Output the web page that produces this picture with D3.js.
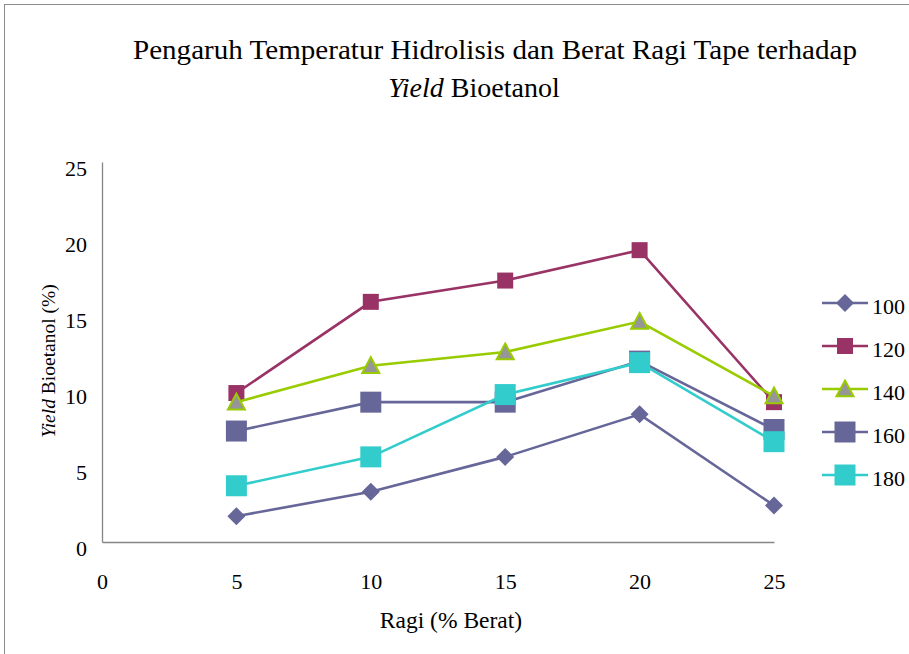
<!DOCTYPE html>
<html>
<head>
<meta charset="utf-8">
<script src="https://cdn.jsdelivr.net/npm/d3@7"></script>
<style>
  body { margin: 0; background: #fff; }
  svg { display: block; font-family: "Liberation Serif", "Times New Roman", serif; }
</style>
</head>
<body>
<div id="chart"></div>
<script>
// Ragi (% berat) on the x axis
var ragi = [5, 10, 15, 20, 25];

// Yield bioetanol (%) per hydrolysis temperature
var yield100 = [1.7, 3.3, 5.6, 8.4, 2.4];
var yield120 = [9.8, 15.8, 17.2, 19.2, 9.2];
var yield140 = [9.2, 11.6, 12.5, 14.5, 9.6];
var yield160 = [7.3, 9.2, 9.2, 11.9, 7.4];
var yield180 = [3.7, 5.6, 9.7, 11.8, 6.6];

var seriesNames = ["100", "120", "140", "160", "180"];
var xTicks = [0, 5, 10, 15, 20, 25];
var yTicks = [0, 5, 10, 15, 20, 25];

var width = 909, height = 654;
var serif = "'Liberation Serif', 'Times New Roman', serif";

var svg = d3.select("#chart").append("svg")
    .attr("width", width)
    .attr("height", height);

// chart area border (cropped at right and bottom)
svg.append("rect")
    .attr("x", 4.5).attr("y", 4.5)
    .attr("width", width + 10).attr("height", height + 10)
    .attr("fill", "#fff")
    .attr("stroke", "#8c8c8c")
    .attr("stroke-width", 1);

var x = d3.scaleLinear().domain([0, 25]).range([102, 774]);
var y = d3.scaleLinear().domain([0, 25]).range([542, 162]);

// Title
svg.append("text")
    .attr("x", 495).attr("y", 59)
    .attr("text-anchor", "middle")
    .attr("font-size", 28)
    .attr("textLength", 724)
    .attr("lengthAdjust", "spacingAndGlyphs")
    .text("Pengaruh Temperatur Hidrolisis dan Berat Ragi Tape terhadap");
var t2 = svg.append("text")
    .attr("x", 474).attr("y", 97)
    .attr("text-anchor", "middle")
    .attr("font-size", 28);
t2.append("tspan").attr("font-style", "italic").text("Yield");
t2.append("tspan").text(" Bioetanol");

// Axes
var xAxis = svg.append("g")
    .attr("transform", "translate(0," + y(0) + ")")
    .call(d3.axisBottom(x).tickValues(xTicks).tickSize(0).tickPadding(0));
var yAxis = svg.append("g")
    .attr("transform", "translate(" + x(0) + ",0)")
    .call(d3.axisLeft(y).tickValues(yTicks).tickSize(0).tickPadding(15));

[xAxis, yAxis].forEach(function (g) {
    g.select(".domain").attr("stroke", "#868686").attr("stroke-width", 1.3);
    g.selectAll("text")
        .attr("font-family", serif)
        .attr("font-size", 22)
        .attr("fill", "#000");
});
xAxis.selectAll("text").attr("y", 47).attr("dy", null);
yAxis.selectAll("text").attr("dy", null).attr("y", 13.5);

// Axis titles
svg.append("text")
    .attr("x", 451).attr("y", 628)
    .attr("text-anchor", "middle")
    .attr("font-size", 23.5)
    .text("Ragi (% Berat)");

var yt = svg.append("text")
    .attr("transform", "translate(55,361) rotate(-90)")
    .attr("text-anchor", "middle")
    .attr("font-size", 19.5);
yt.append("tspan").attr("font-style", "italic").text("Yield");
yt.append("tspan").text(" Bioetanol (%)");

// Series definitions
var series = [
    { name: seriesNames[0], values: yield100, line: "#666699", fill: "#666699", stroke: "none", shape: "diamond", size: 18 },
    { name: seriesNames[1], values: yield120, line: "#993366", fill: "#993366", stroke: "none", shape: "square", size: 16 },
    { name: seriesNames[2], values: yield140, line: "#99CC00", fill: "#969696", stroke: "#99CC00", shape: "triangle", size: 17 },
    { name: seriesNames[3], values: yield160, line: "#666699", fill: "#666699", stroke: "none", shape: "square", size: 21 },
    { name: seriesNames[4], values: yield180, line: "#33CCCC", fill: "#33CCCC", stroke: "none", shape: "square", size: 21 }
];

function markerPath(shape, s) {
    var h = s / 2;
    if (shape === "diamond") return "M0," + (-h) + "L" + h + ",0L0," + h + "L" + (-h) + ",0Z";
    if (shape === "triangle") return "M0," + (-h) + "L" + h + "," + (h * 0.85) + "L" + (-h) + "," + (h * 0.85) + "Z";
    return "M" + (-h) + "," + (-h) + "H" + h + "V" + h + "H" + (-h) + "Z";
}

var line = d3.line()
    .x(function (d, i) { return x(ragi[i]); })
    .y(function (d) { return y(d); });

series.forEach(function (s) {
    var g = svg.append("g");
    g.append("path")
        .attr("d", line(s.values))
        .attr("fill", "none")
        .attr("stroke", s.line)
        .attr("stroke-width", 2.6);
    g.selectAll("path.marker")
        .data(s.values)
        .enter().append("path")
        .attr("class", "marker")
        .attr("transform", function (d, i) { return "translate(" + x(ragi[i]) + "," + y(d) + ")"; })
        .attr("d", markerPath(s.shape, s.size))
        .attr("fill", s.fill)
        .attr("stroke", s.stroke)
        .attr("stroke-width", 2);
});

// Legend
var legend = svg.append("g");
series.forEach(function (s, i) {
    var ly = 303 + i * 43;
    legend.append("line")
        .attr("x1", 822).attr("x2", 868)
        .attr("y1", ly).attr("y2", ly)
        .attr("stroke", s.line)
        .attr("stroke-width", 2.6);
    legend.append("path")
        .attr("transform", "translate(845," + ly + ")")
        .attr("d", markerPath(s.shape, s.size))
        .attr("fill", s.fill)
        .attr("stroke", s.stroke)
        .attr("stroke-width", 2);
    legend.append("text")
        .attr("x", 872).attr("y", ly + 11)
        .attr("font-size", 22)
        .text(s.name);
});
</script>
</body>
</html>
